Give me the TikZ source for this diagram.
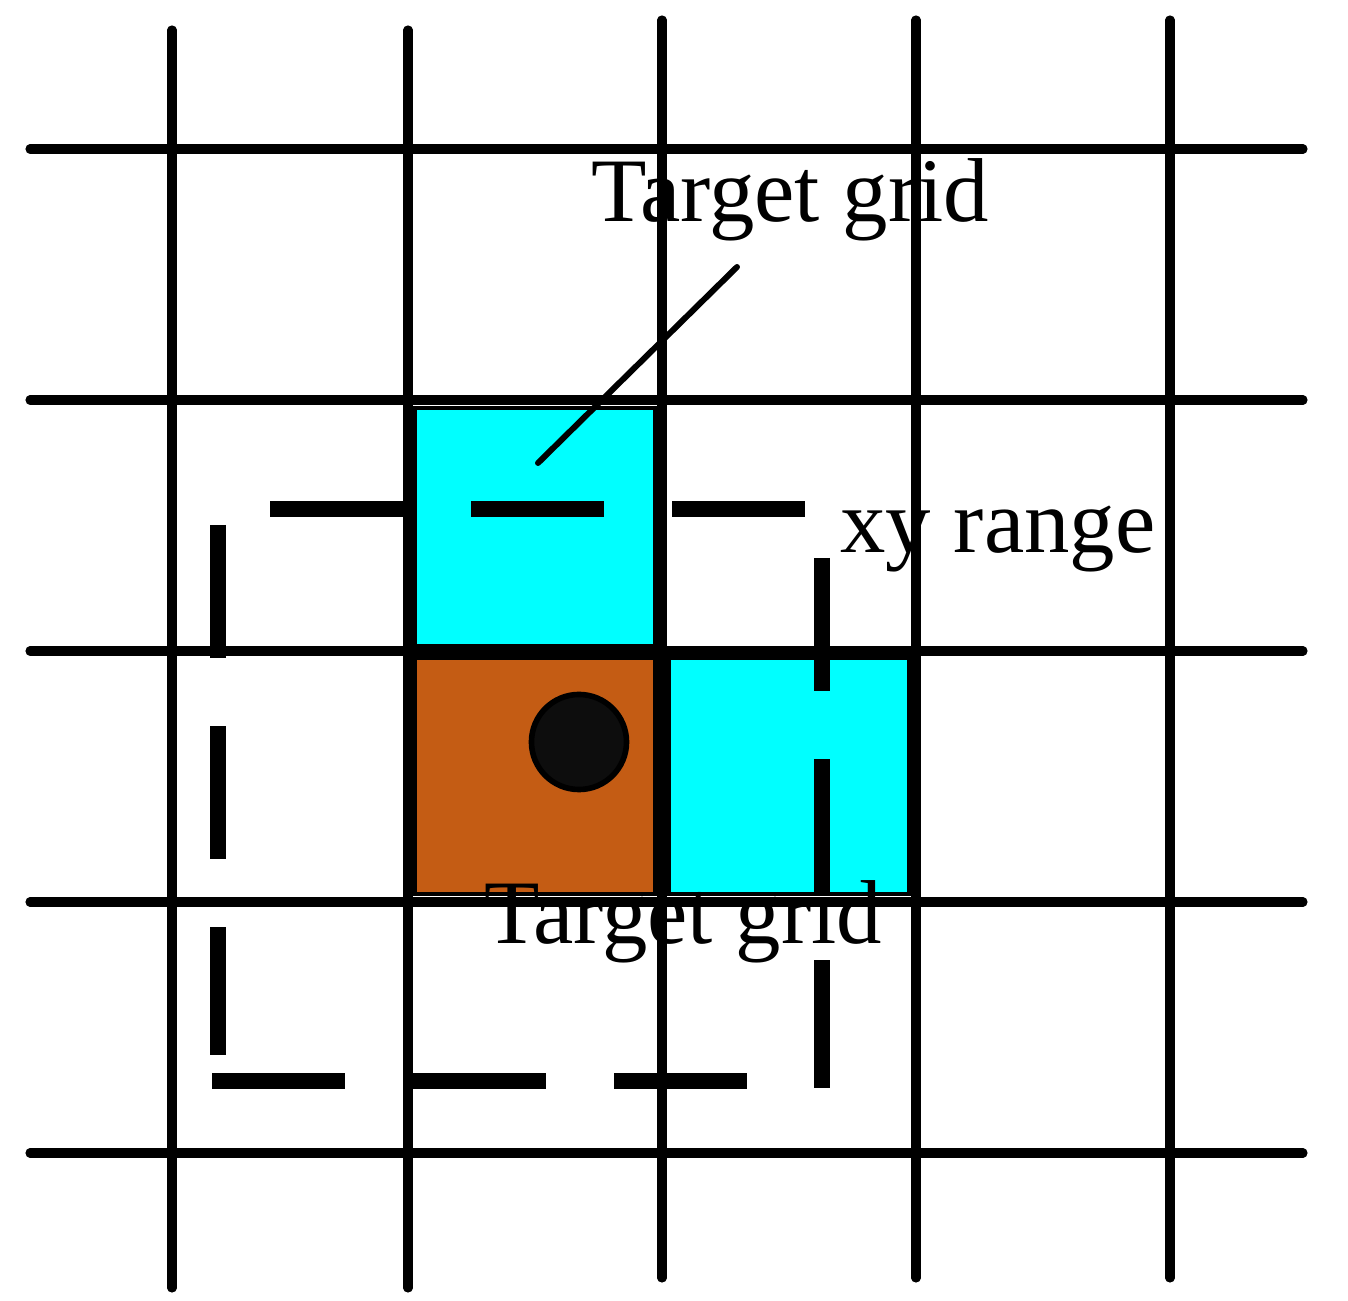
\documentclass[tikz,border=0pt]{standalone}
\usepackage{fontspec}
\setmainfont{Liberation Serif}
\definecolor{targetcyan}{RGB}{0,255,255}
\definecolor{ownbrown}{RGB}{196,92,20}
\definecolor{pointfill}{RGB}{13,13,13}

\begin{document}
\begin{tikzpicture}[x=0.01cm, y=-0.01cm]

\tikzstyle{gridline} = [draw, line width=2.6pt, line cap=round]
\tikzstyle{cell} = [draw=black, line width=1pt]
\tikzstyle{xyrange} = [draw, line width=4.7pt, dash pattern=on 1.33cm off 0.68cm]
\tikzstyle{gridtext} = [font=\fontsize{25.8}{30}\selectfont, anchor=base, inner sep=0pt]
\tikzstyle{connector} = [draw, line width=1.7pt, line cap=round]

\useasboundingbox (0,0) rectangle (1348,1301);

\path [gridline] (30,149) -- (1303,149);
\path [gridline] (30,400) -- (1303,400);
\path [gridline] (30,651) -- (1303,651);
\path [gridline] (30,902) -- (1303,902);
\path [gridline] (30,1153) -- (1303,1153);

\path [gridline] (172,30) -- (172,1288);
\path [gridline] (408,30) -- (408,1288);
\path [gridline] (662,20) -- (662,1278);
\path [gridline] (916,20) -- (916,1278);
\path [gridline] (1170,20) -- (1170,1278);

\path [cell, fill=targetcyan] (415,408) rectangle (655,646);
\path [cell, fill=ownbrown] (415,658) rectangle (655,894);
\path [cell, fill=targetcyan] (669,658) rectangle (909,894);

\node at (579,742) [circle, draw, line width=1.6pt, fill=pointfill, minimum size=0.95cm, inner sep=0pt] (point) {};

\path [xyrange] (270,509) -- (805,509);
\path [xyrange] (218,525) -- (218,1055);
\path [xyrange] (212,1081) -- (748,1081);
\path [xyrange] (822,558) -- (822,1088);

\node [gridtext] at (790,222) (top_label) {Target grid};
\node [gridtext] at (998,553) (range_label) {xy range};
\node [gridtext] at (683,944) (own_label) {Target grid};

\coordinate (leader_top) at (737,267);
\coordinate (leader_end) at (538,463);
\path [connector] (leader_top) -- (leader_end);

\end{tikzpicture}
\end{document}
